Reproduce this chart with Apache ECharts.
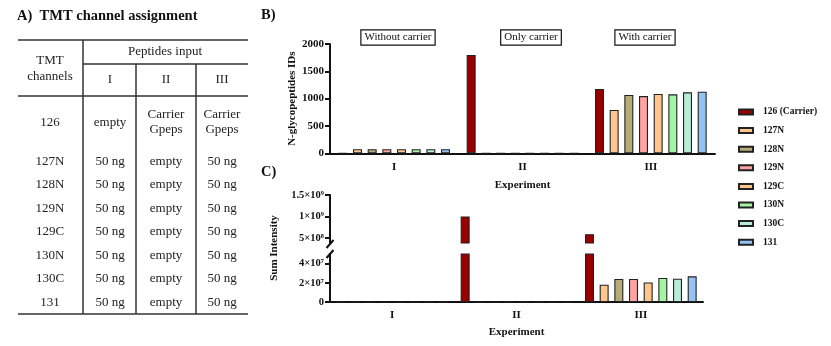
<!DOCTYPE html>
<html><head><meta charset="utf-8">
<script src="https://cdn.jsdelivr.net/npm/echarts@6/dist/echarts.min.js"></script>
<style>html,body{margin:0;padding:0;background:#fff}#c{width:831px;height:346px}</style>
</head><body><div id="c"></div>
<script>
// ---------- data ----------
const experiments = ['I', 'II', 'III'];
const channels = ['126 (Carrier)', '127N', '128N', '129N', '129C', '130N', '130C', '131'];
const colors = ['#990000', '#FFC68C', '#B7AB78', '#FFA3A3', '#FFC68C', '#A3F5A3', '#B8EBD8', '#93C2F5'];
// B) N-glycopeptide IDs per channel for experiments I, II, III
const ids126 = [0, 1800, 1177];
const ids127N = [75, 0, 792];
const ids128N = [75, 0, 1067];
const ids129N = [75, 0, 1048];
const ids129C = [75, 0, 1085];
const ids130N = [75, 0, 1079];
const ids130C = [75, 0, 1116];
const ids131 = [75, 0, 1128];
const idsB = [ids126, ids127N, ids128N, ids129N, ids129C, ids130N, ids130C, ids131];
// C) Sum intensity per channel for experiments I, II, III
const int126 = [0, 1.0e9, 5.86e8];
const int127N = [0, 0, 1.8e7];
const int128N = [0, 0, 2.4e7];
const int129N = [0, 0, 2.4e7];
const int129C = [0, 0, 2.04e7];
const int130N = [0, 0, 2.5e7];
const int130C = [0, 0, 2.43e7];
const int131 = [0, 0, 2.67e7];
const intC = [int126, int127N, int128N, int129N, int129C, int130N, int130C, int131];
// tick labels
const ticksB = [0, 500, 1000, 1500, 2000];
const ticksCUpper = [5e8, 1e9, 1.5e9];
const ticksCUpperLabels = ['5×10⁸', '1×10⁹', '1.5×10⁹'];
const ticksCLower = [0, 2e7, 4e7];
const ticksCLowerLabels = ['0', '2×10⁷', '4×10⁷'];
const annotations = ['Without carrier', 'Only carrier', 'With carrier'];
// A) table
const tableHeader = ['TMT\nchannels', 'Peptides input', 'I', 'II', 'III'];
const tableChannels = ['126', '127N', '128N', '129N', '129C', '130N', '130C', '131'];
const inputI = ['empty', '50 ng', '50 ng', '50 ng', '50 ng', '50 ng', '50 ng', '50 ng'];
const inputII = ['Carrier\nGpeps', 'empty', 'empty', 'empty', 'empty', 'empty', 'empty', 'empty'];
const inputIII = ['Carrier\nGpeps', '50 ng', '50 ng', '50 ng', '50 ng', '50 ng', '50 ng', '50 ng'];

// ---------- layout / styles ----------
const FF = '"Liberation Serif", "Times New Roman", serif';
const INK = '#111';
const upperMin = 3.8e8, upperMax = 1.5e9;
const axisLine = { lineStyle: { color: INK, width: 2 } };
const axisTick = { length: 5, lineStyle: { color: INK, width: 2 } };
const lblBold = { fontFamily: FF, fontWeight: 'bold', fontSize: 11, color: INK };

const chart = echarts.init(document.getElementById('c'));

const series = [];
channels.forEach((name, i) => {
  const itemStyle = { color: colors[i], borderColor: '#222', borderWidth: 1.1 };
  series.push({ type: 'bar', name, xAxisIndex: 0, yAxisIndex: 0, data: idsB[i],
    barWidth: 9, barGap: '63%', itemStyle });
  series.push({ type: 'bar', name, xAxisIndex: 1, yAxisIndex: 1, clip: true,
    data: intC[i].map(v => (v > upperMin ? v : '-')), barWidth: 9, barGap: '63%', itemStyle });
  series.push({ type: 'bar', name, xAxisIndex: 2, yAxisIndex: 2, clip: true,
    data: intC[i], barWidth: 9, barGap: '63%', itemStyle });
});

// table graphics
const g = [];
const lineS = { stroke: '#333', lineWidth: 1.5 };
const L = (x1, y1, x2, y2) => g.push({ type: 'line', shape: { x1, y1, x2, y2 }, style: lineS, silent: true });
L(18, 40, 248, 40); L(83, 64, 248, 64); L(18, 96, 248, 96); L(18, 314, 248, 314);
L(83, 40, 83, 314); L(136, 64, 136, 314); L(196, 64, 196, 314);
const T = (text, x, y, extra) => g.push({ type: 'text', x, y, silent: true,
  style: Object.assign({ text, fontFamily: FF, fontSize: 13, fill: '#222', align: 'center',
    verticalAlign: 'middle', lineHeight: 15 }, extra || {}) });
const colX = [50, 110, 166, 222];
T(tableHeader[0], colX[0], 69, { lineHeight: 16 });
T(tableHeader[1], 165, 52);
T(tableHeader[2], colX[1], 80); T(tableHeader[3], colX[2], 80); T(tableHeader[4], colX[3], 80);
tableChannels.forEach((ch, r) => {
  const y = r === 0 ? 122.5 : 161.5 + (r - 1) * 23.5;
  T(ch, colX[0], y); T(inputI[r], colX[1], y); T(inputII[r], colX[2], y); T(inputIII[r], colX[3], y);
});
// panel labels
const P = (text, x, y, size) => g.push({ type: 'text', x, y, silent: true,
  style: { text, fontFamily: FF, fontWeight: 'bold', fontSize: size, fill: INK, verticalAlign: 'middle' } });
P('A)  TMT channel assignment', 17, 16, 14.5);
P('B)', 261, 15.5, 14.5);
P('C)', 261, 172.5, 14.5);
// annotation boxes in B
const annX = [398, 531, 645];
annotations.forEach((a, k) => g.push({ type: 'text', x: annX[k], y: 37.5, silent: true,
  style: { text: a, fontFamily: FF, fontSize: 11, fill: INK, align: 'center', verticalAlign: 'middle',
    borderColor: INK, borderWidth: 1.2, padding: [2, 3, 1, 3], backgroundColor: '#fff' } }));
// C y title
g.push({ type: 'text', x: 274, y: 248, rotation: Math.PI / 2, silent: true,
  style: { text: 'Sum Intensity', fontFamily: FF, fontWeight: 'bold', fontSize: 11, fill: INK,
    align: 'center', verticalAlign: 'middle' } });
// axis break marks
const bs = { stroke: INK, lineWidth: 2 };
g.push({ type: 'line', shape: { x1: 326.5, y1: 248, x2: 333.5, y2: 240 }, style: bs, silent: true });
g.push({ type: 'line', shape: { x1: 326.5, y1: 258, x2: 333.5, y2: 250 }, style: bs, silent: true });

chart.setOption({
  animation: false,
  backgroundColor: '#fff',
  textStyle: { fontFamily: FF },
  grid: [
    { left: 330, width: 385, top: 44, height: 109.3 },
    { left: 330, width: 373, top: 195, height: 48 },
    { left: 330, width: 373, top: 254, height: 48 }
  ],
  legend: {
    data: channels, orient: 'vertical', left: 733, top: 101.5, itemWidth: 14, itemHeight: 5,
    itemGap: 7.6, selectedMode: false, icon: 'rect',
    textStyle: { fontFamily: FF, fontWeight: 'bold', fontSize: 9.5, color: INK, lineHeight: 11, padding: [0, 0, 0, 5] }
  },
  xAxis: [
    { type: 'category', gridIndex: 0, data: experiments, axisLine, axisTick: Object.assign({ alignWithLabel: true }, axisTick),
      axisLabel: Object.assign({ margin: 8 }, lblBold), name: 'Experiment', nameLocation: 'middle', nameGap: 26,
      nameTextStyle: lblBold },
    { type: 'category', gridIndex: 1, data: experiments, show: false },
    { type: 'category', gridIndex: 2, data: experiments, axisLine, axisTick: Object.assign({ alignWithLabel: true }, axisTick),
      axisLabel: Object.assign({ margin: 8 }, lblBold), name: 'Experiment', nameLocation: 'middle', nameGap: 25,
      nameTextStyle: lblBold }
  ],
  yAxis: [
    { type: 'value', gridIndex: 0, min: ticksB[0], max: ticksB[ticksB.length - 1], interval: 500,
      axisLine: Object.assign({ show: true }, axisLine), axisTick: Object.assign({ show: true }, axisTick),
      splitLine: { show: false }, axisLabel: Object.assign({ margin: 6, formatter: v => String(v) }, lblBold),
      name: 'N-glycopeptides IDs', nameLocation: 'middle', nameGap: 32, nameTextStyle: lblBold },
    { type: 'value', gridIndex: 1, min: upperMin, max: upperMax,
      axisLine: Object.assign({ show: true }, axisLine),
      axisTick: Object.assign({ show: true, customValues: ticksCUpper }, axisTick),
      splitLine: { show: false },
      axisLabel: Object.assign({ margin: 6, customValues: ticksCUpper,
        formatter: v => ticksCUpperLabels[ticksCUpper.indexOf(v)] || '' }, lblBold, { fontSize: 10.5 }) },
    { type: 'value', gridIndex: 2, min: 0, max: 5e7,
      axisLine: Object.assign({ show: true }, axisLine),
      axisTick: Object.assign({ show: true, customValues: ticksCLower }, axisTick),
      splitLine: { show: false },
      axisLabel: Object.assign({ margin: 6, customValues: ticksCLower,
        formatter: v => ticksCLowerLabels[ticksCLower.indexOf(v)] || '' }, lblBold, { fontSize: 10.5 }) }
  ],
  series,
  graphic: g
});
</script>
</body></html>
